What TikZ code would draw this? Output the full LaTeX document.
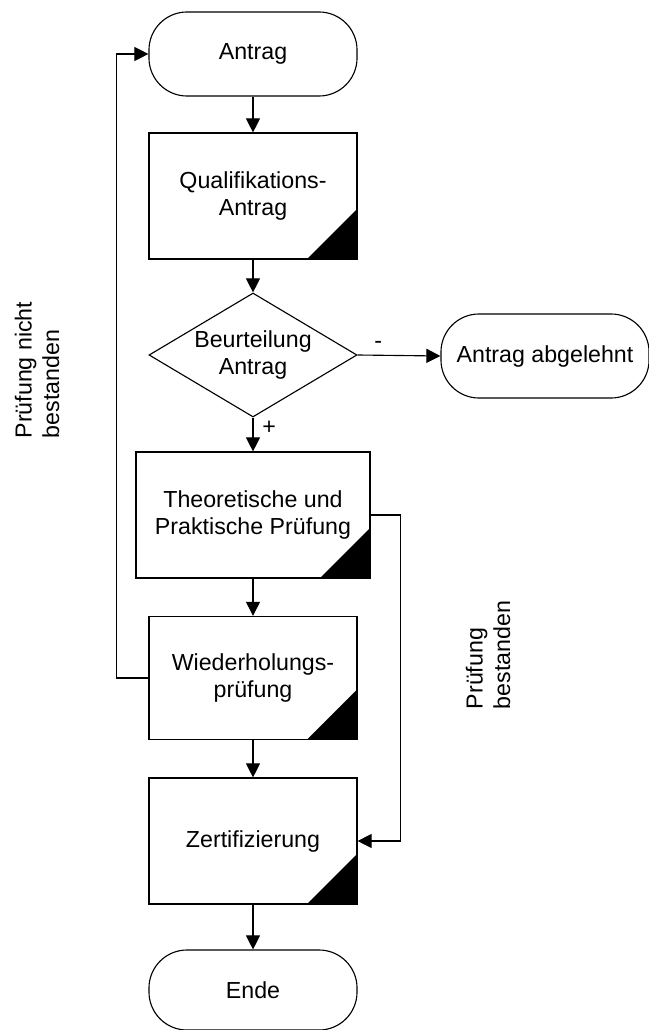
\documentclass[tikz,border=0pt]{standalone}
\usepackage{fontspec}
\setmainfont{Liberation Sans}
\usetikzlibrary{shapes.geometric, arrows.meta}

\begin{document}
\begin{tikzpicture}[x=0.025cm, y=-0.025cm,
               every node/.style={font=\fontsize{16.5}{19.5}\selectfont, align=center},
               terminal/.style={draw, line width=0.8pt, rounded corners=0.95cm, minimum width=5.2cm, minimum height=2.1cm},
               task/.style={draw, line width=0.8pt, minimum width=5.2cm, minimum height=3.15cm,
                    path picture={\fill (path picture bounding box.south east) -- ++(-1.25cm,0) -- ++(1.25cm,1.25cm) -- cycle;}},
               decision/.style={draw, line width=0.8pt, diamond, aspect=1.68, inner sep=0pt, minimum width=5.2cm, minimum height=3.1cm},
               flow/.style={line width=0.8pt, -{Triangle[width=10pt, length=10pt]}}]
               \useasboundingbox (0,0) rectangle (649,1030);
               % Knoten
               \node[terminal] (antrag) at (253,54) {Antrag};
               \node[task] (quali) at (253,196) {Qualifikations-\\Antrag};
               \node[decision] (beurt) at (253,355) {Beurteilung\\Antrag};
               \node[terminal] (abgelehnt) at (545,356) {Antrag abgelehnt};
               \node[task, minimum width=5.85cm] (theo) at (253,515) {Theoretische und\\Praktische Prüfung};
               \node[task, minimum height=3.08cm] (wieder) at (253,678) {Wiederholungs-\\prüfung};
               \node[task] (zert) at (253,841) {Zertifizierung};
               \node[terminal, minimum height=2cm] (ende) at (253,990) {Ende};
               \node[rotate=90, align=left] (nichtbest) at (37,370) {Prüfung nicht\\bestanden};
               \node[rotate=90, align=left] (best) at (488,655) {Prüfung\\bestanden};
               % Verbindungen
               \draw[flow] (antrag) -- (quali);
               \draw[flow] (quali) -- (beurt);
               \draw[flow] (beurt.east) -- node[pos=0.25, above=1pt]{-} (abgelehnt.west);
               \draw[flow] (beurt.south) -- node[pos=0.3, right=3pt]{+} (theo.north);
               \draw[flow] (theo) -- (wieder);
               \draw[flow] (wieder) -- (zert);
               \draw[flow] (zert) -- (ende);
               \draw[flow] (wieder.west) -- ++(-32,0) |- (antrag.west);
               \draw[flow] (theo.east) -- ++(30,0) |- (zert.east);
          \end{tikzpicture}
\end{document}
